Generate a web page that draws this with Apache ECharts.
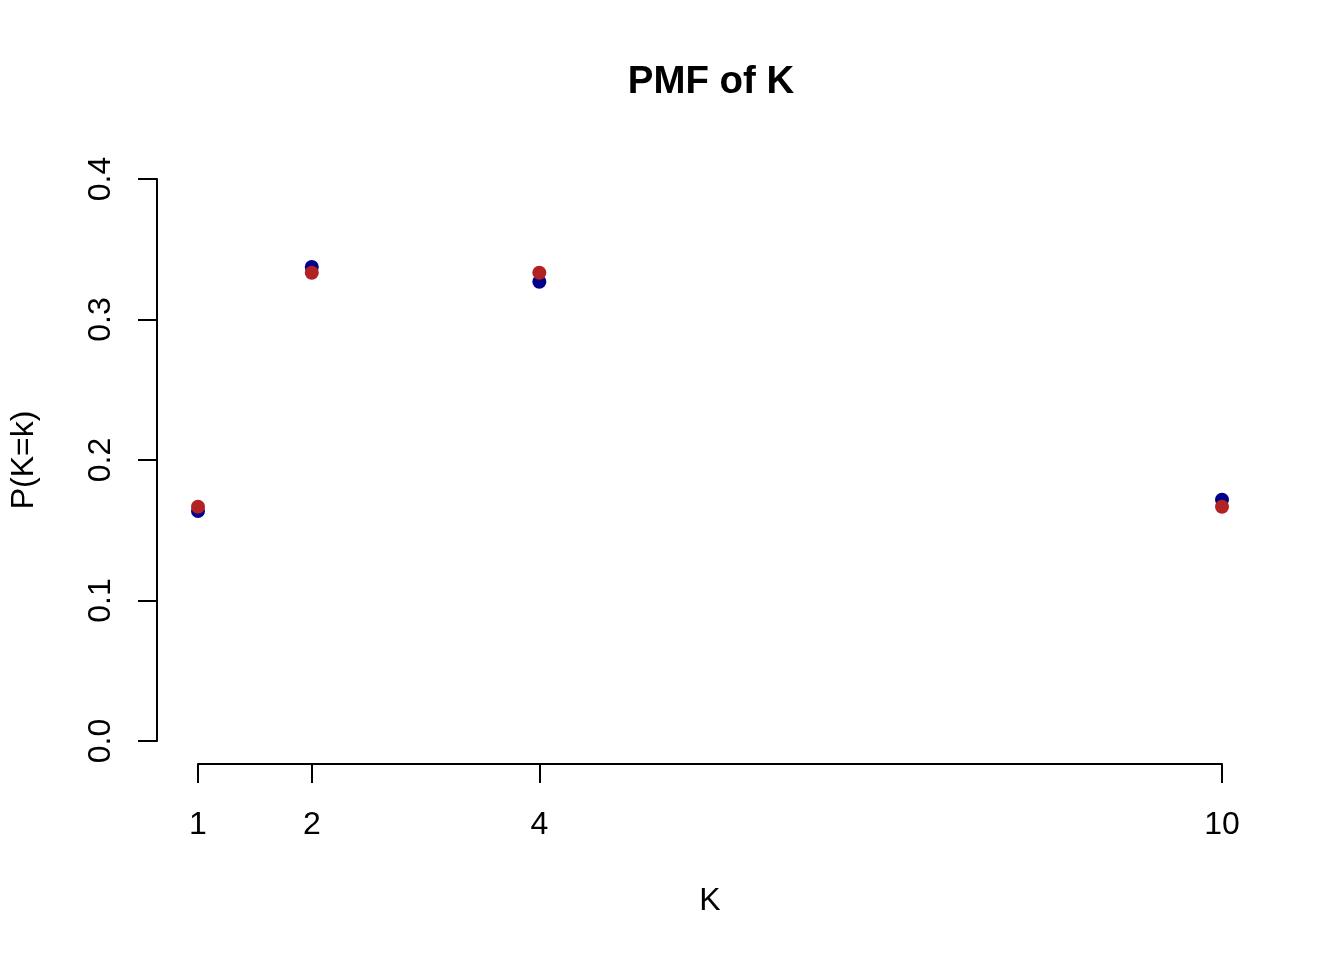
<!DOCTYPE html>
<html>
<head>
<meta charset="utf-8">
<script src="https://cdn.jsdelivr.net/npm/echarts@6/dist/echarts.min.js"></script>
<style>html,body{margin:0;padding:0;background:#fff;}#chart{width:1344px;height:960px;}</style>
</head>
<body>
<div id="chart"></div>
<script>
const kValues = [1, 2, 4, 10];
const simulated = [0.1637, 0.3374, 0.3269, 0.1717];
const theoretical = [0.1667, 0.3333, 0.3333, 0.1667];
const yTicks = [0, 0.1, 0.2, 0.3, 0.4];

const FONT = "'Liberation Sans', Arial, sans-serif";
const chart = echarts.init(document.getElementById('chart'), null, {renderer: 'canvas'});
chart.setOption({
  backgroundColor: '#ffffff',
  animation: false,
  title: {
    text: 'PMF of K',
    left: 706,
    textAlign: 'center',
    top: 58,
    textStyle: {fontFamily: FONT, fontSize: 38.4, fontWeight: 'bold', color: '#000'}
  },
  grid: {left: 198, right: 122, top: 179, bottom: 219, containLabel: false},
  xAxis: {
    type: 'value',
    min: 1, max: 10, interval: 1,
    offset: 23,
    name: 'K',
    nameLocation: 'middle',
    nameGap: 121,
    nameTextStyle: {fontFamily: FONT, fontSize: 32, color: '#000'},
    axisLine: {show: true, onZero: false, lineStyle: {color: '#000', width: 2}},
    axisTick: {show: true, length: 19, customValues: kValues, lineStyle: {color: '#000', width: 2}},
    axisLabel: {show: true, margin: 45, customValues: kValues, fontFamily: FONT, fontSize: 32, color: '#000'},
    splitLine: {show: false}
  },
  yAxis: {
    type: 'value',
    min: 0, max: 0.4, interval: 0.1,
    offset: 41,
    name: 'P(K=k)',
    nameLocation: 'middle',
    nameGap: 117,
    nameRotate: 90,
    nameTextStyle: {fontFamily: FONT, fontSize: 32, color: '#000'},
    axisLine: {show: true, onZero: false, lineStyle: {color: '#000', width: 2}},
    axisTick: {show: true, length: 19, customValues: yTicks, lineStyle: {color: '#000', width: 2}},
    axisLabel: {show: true, margin: 40, rotate: 90, customValues: yTicks, fontFamily: FONT, fontSize: 32, color: '#000',
      formatter: v => v.toFixed(1)},
    splitLine: {show: false}
  },
  series: [
    {
      name: 'Simulated',
      type: 'scatter',
      clip: false,
      symbol: 'circle',
      symbolSize: 14,
      itemStyle: {color: '#00008B', opacity: 1},
      data: kValues.map((k, i) => [k, simulated[i]])
    },
    {
      name: 'Theoretical',
      type: 'scatter',
      clip: false,
      symbol: 'circle',
      symbolSize: 14,
      itemStyle: {color: '#B22222', opacity: 1},
      data: kValues.map((k, i) => [k, theoretical[i]])
    }
  ]
});
</script>
</body>
</html>
